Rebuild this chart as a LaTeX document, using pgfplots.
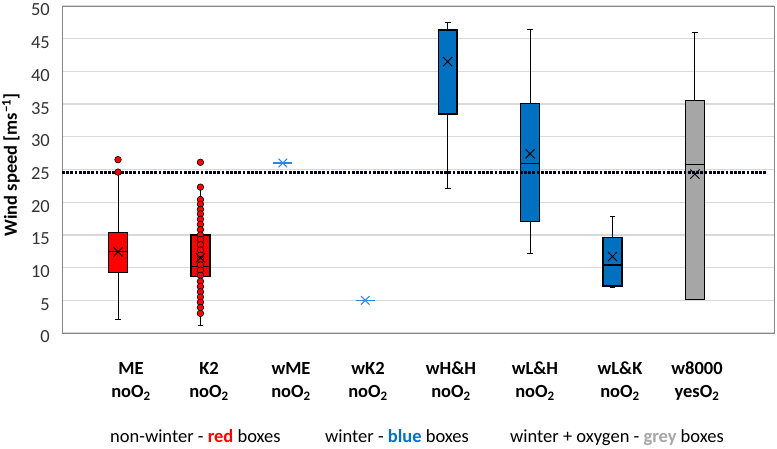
\documentclass[border=0pt]{standalone}
\usepackage{pgfplots}
\pgfplotsset{compat=1.18}
\usepgfplotslibrary{statistics}
\usepackage{fontspec}
\setmainfont{Carlito}

\definecolor{boxred}{RGB}{255,0,0}
\definecolor{boxblue}{RGB}{0,112,192}
\definecolor{boxgrey}{RGB}{166,166,166}
\definecolor{starblue}{RGB}{46,134,222}
\definecolor{gridgray}{RGB}{217,217,217}
\definecolor{bordergray}{RGB}{134,134,134}
\definecolor{ticktext}{RGB}{50,50,50}
\newcommand{\f}{\fontsize{18.5pt}{22pt}\selectfont}

\begin{document}
\begin{tikzpicture}
\useasboundingbox (-62pt,-116pt) rectangle (715pt,333pt);
\begin{axis}[
  at={(0,0)}, anchor=south west,
  scale only axis,
  width=712pt, height=327pt,
  xmin=0.32, xmax=8.96,
  ymin=0, ymax=50,
  ytick={0,5,...,50},
  xtick=\empty,
  ymajorgrids,
  grid style={draw=gridgray, line width=1.3pt},
  axis line style={draw=bordergray, line width=0.9pt},
  major tick length=0pt,
  /pgf/number format/assume math mode=true,
  yticklabel style={font=\f, text=ticktext, inner sep=0pt, xshift=-12pt, yshift=-4pt},
  boxplot/draw direction=y,
  boxplot/box extend=0.23,
  boxplot/whisker extend=0.07,
  boxplot/every box/.style={line width=1.3pt},
  boxplot/every median/.style={line width=1.1pt},
  boxplot/every whisker/.style={line width=0.9pt},
]
% boxes
\addplot[fill=boxred, draw=black, boxplot prepared={draw position=1,
  lower whisker=2.0, lower quartile=9.2, median=12.5, upper quartile=15.4, upper whisker=24.6}] coordinates {};
\addplot[fill=boxred, draw=black, boxplot prepared={draw position=2,
  lower whisker=1.1, lower quartile=8.6, median=10.1, upper quartile=15.0, upper whisker=22.3}] coordinates {};
\addplot[fill=boxblue, draw=black, boxplot prepared={draw position=5,
  lower whisker=22.1, lower quartile=33.5, median=46.2, upper quartile=46.4, upper whisker=47.5}] coordinates {};
\addplot[fill=boxblue, draw=black, boxplot prepared={draw position=6,
  lower whisker=12.2, lower quartile=17.0, median=25.9, upper quartile=35.1, upper whisker=46.4}] coordinates {};
\addplot[fill=boxblue, draw=black, boxplot prepared={draw position=7,
  lower whisker=7.0, lower quartile=7.2, median=10.4, upper quartile=14.6, upper whisker=17.8}] coordinates {};
\addplot[fill=boxgrey, draw=black, boxplot prepared={draw position=8,
  lower whisker=5.1, lower quartile=5.1, median=25.7, upper quartile=35.6, upper whisker=45.9}] coordinates {};
% threshold line
\addplot[draw=black!90!blue, line width=2.8pt, dash pattern=on 2.8pt off 1.4pt] coordinates {(0.32,24.6) (8.86,24.6)};
% points
\addplot[only marks, mark=*, mark size=3.3pt, mark options={fill=boxred, draw=black, line width=0.6pt}] coordinates {
  (1,26.5) (1,24.6)
  (2,26.1) (2,22.3) (2,20.4) (2,19.7) (2,18.9) (2,18.2) (2,17.4) (2,16.6) (2,15.8) (2,15.0)
  (2,14.3) (2,13.5) (2,12.7) (2,11.9) (2,11.2) (2,10.4) (2,9.6) (2,8.8) (2,7.9) (2,7.1)
  (2,6.3) (2,5.5) (2,4.7) (2,3.9) (2,3.0)};
% means
\addplot[only marks, mark=x, mark size=6.5pt, draw=black, line width=0.9pt] coordinates {
  (1,12.4) (2,11.5) (5,41.5) (6,27.4) (7,11.7) (8,24.3)};
% single values
\addplot[only marks, mark=x, mark size=6pt, draw=starblue, line width=1.1pt] coordinates {(3,26.0) (4,5.0)};
\addplot[only marks, mark=-, mark size=9.5pt, draw=starblue, line width=1.1pt] coordinates {(3,26.0) (4,5.0)};
\end{axis}
% category labels
\foreach \x/\a/\b in {69/ME/no, 147/K2/no, 229/wME/no, 306/wK2/no, 389/wH\&H/no, 473/wL\&H/no, 558/wL\&K/no, 635/w8000/yes}{
  \node[anchor=base, inner sep=0pt, font=\f\bfseries] at (\x pt,-42pt) {\a};
  \node[anchor=base, inner sep=0pt, font=\f\bfseries] at (\x pt,-65pt) {\b O\textsubscript{2}};
}
\node[anchor=base west, inner sep=0pt, font=\f] at (48pt,-110pt) {non-winter - \textcolor{boxred}{\bfseries red} boxes};
\node[anchor=base west, inner sep=0pt, font=\f] at (263pt,-110pt) {winter - \textcolor{boxblue}{\bfseries blue} boxes};
\node[anchor=base west, inner sep=0pt, font=\f] at (448pt,-110pt) {winter + oxygen - \textcolor{boxgrey}{\bfseries grey} boxes};
% y label
\node[rotate=90, anchor=center, font=\f\bfseries] at (-51pt,168pt) {Wind speed [ms\textsuperscript{−1}]};
\end{tikzpicture}
\end{document}
